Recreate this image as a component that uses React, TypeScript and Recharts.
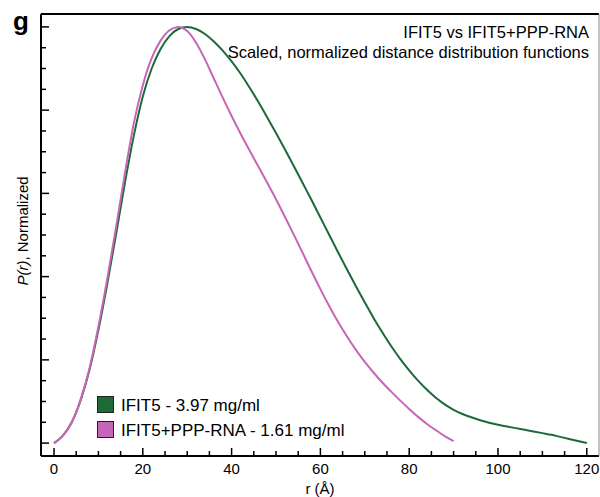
import React from 'react'
import { LineChart, Line, XAxis, YAxis } from 'recharts'

// distance r (Å)
const rValues = [
  0, 2, 4, 6, 8, 10, 12, 14, 16, 18, 20, 22, 24, 26, 28, 30, 32, 34, 36, 38, 40,
  42, 44, 46, 48, 50, 52, 54, 56, 58, 60, 62, 64, 66, 68, 70, 72, 74, 76, 78, 80,
  82, 84, 86, 88, 90, 92, 94, 96, 98, 100, 102, 104, 106, 108, 110, 112, 114, 116, 118, 120,
]

// IFIT5 - 3.97 mg/ml
const ifit5 = [
  0, 0.018, 0.05, 0.103, 0.176, 0.272, 0.383, 0.503, 0.627, 0.74, 0.833, 0.9, 0.947, 0.978, 0.995, 1.0,
  0.995, 0.983, 0.965, 0.943, 0.917, 0.888, 0.855, 0.82, 0.783, 0.745, 0.706, 0.666, 0.625, 0.584, 0.542,
  0.5, 0.458, 0.417, 0.377, 0.338, 0.3, 0.265, 0.232, 0.202, 0.175, 0.15, 0.128, 0.109, 0.093, 0.08,
  0.07, 0.062, 0.055, 0.049, 0.044, 0.04, 0.036, 0.032, 0.028, 0.024, 0.02, 0.015, 0.01, 0.005, 0,
]

// IFIT5+PPP-RNA - 1.61 mg/ml (ends at 90 Å)
const ifit5Rna = [
  0, 0.018, 0.05, 0.105, 0.18, 0.28, 0.395, 0.52, 0.65, 0.77, 0.86, 0.925, 0.967, 0.992, 1.0, 0.99,
  0.962, 0.922, 0.876, 0.83, 0.786, 0.744, 0.704, 0.665, 0.626, 0.586, 0.544, 0.501, 0.457, 0.413, 0.37,
  0.329, 0.291, 0.256, 0.224, 0.195, 0.169, 0.145, 0.123, 0.102, 0.082, 0.063, 0.046, 0.031, 0.017, 0.005,
]

const xTicks = [0, 5, 10, 15, 20, 25, 30, 35, 40, 45, 50, 55, 60, 65, 70, 75, 80, 85, 90, 95, 100, 105, 110, 115, 120]
const yTicks = [0, 0.05, 0.1, 0.15, 0.2, 0.25, 0.3, 0.35, 0.4, 0.45, 0.5, 0.55, 0.6, 0.65, 0.7, 0.75, 0.8, 0.85, 0.9, 0.95, 1]

const GREEN = '#1b6a38'
const PINK = '#c865b6'
const FONT = '"Liberation Sans", Arial, Helvetica, sans-serif'

const data = rValues.map((r, i) => ({
  r,
  ifit5: ifit5[i],
  rna: i < ifit5Rna.length ? ifit5Rna[i] : null,
}))

const XTick = ({ x, y, payload }: any) => {
  const major = payload.value % 20 === 0
  return (
    <g>
      <line x1={x} x2={x} y1={y - 1} y2={y - 1 - (major ? 7 : 4)} stroke="#000" strokeWidth={1.5} />
      {major && (
        <text x={x} y={y + 18} textAnchor="middle" fontSize={15} fontFamily={FONT} fill="#000">
          {payload.value}
        </text>
      )}
    </g>
  )
}

const YTick = ({ x, y, payload }: any) => {
  const major = Math.round(payload.value * 100) % 20 === 0
  return <line x1={x + 1} x2={x + 1 + (major ? 7 : 4)} y1={y} y2={y} stroke="#000" strokeWidth={1.5} />
}

export default function App() {
  return (
    <div style={{ position: 'absolute', left: 0, top: 0, width: 600, height: 497, background: '#fff' }}>
      <LineChart width={600} height={497} data={data} margin={{ top: 13, right: 0, left: 40, bottom: 40 }}>
        <XAxis
          dataKey="r"
          type="number"
          domain={[-2.93, 122.75]}
          allowDataOverflow
          ticks={xTicks}
          interval={0}
          height={1}
          tickSize={0}
          tickMargin={0}
          tickLine={false}
          axisLine={{ stroke: '#000', strokeWidth: 2 }}
          tick={<XTick />}
        />
        <XAxis
          xAxisId="top"
          orientation="top"
          dataKey="r"
          type="number"
          domain={[-2.93, 122.75]}
          height={1}
          tick={false}
          tickLine={false}
          axisLine={{ stroke: '#000', strokeWidth: 2 }}
        />
        <YAxis
          type="number"
          domain={[-0.031, 1.031]}
          allowDataOverflow
          ticks={yTicks}
          interval={0}
          width={1}
          tickSize={0}
          tickMargin={0}
          tickLine={false}
          axisLine={{ stroke: '#000', strokeWidth: 2 }}
          tick={<YTick />}
        />
        <YAxis
          yAxisId="right"
          orientation="right"
          type="number"
          domain={[-0.031, 1.031]}
          width={1}
          tick={false}
          tickLine={false}
          axisLine={{ stroke: '#888', strokeWidth: 1 }}
        />
        <Line
          dataKey="ifit5"
          type="monotone"
          stroke={GREEN}
          strokeWidth={2}
          dot={false}
          isAnimationActive={false}
        />
        <Line
          dataKey="rna"
          type="monotone"
          stroke={PINK}
          strokeWidth={2}
          dot={false}
          connectNulls={false}
          isAnimationActive={false}
        />
      </LineChart>

      <svg
        width={600}
        height={497}
        style={{ position: 'absolute', left: 0, top: 0, pointerEvents: 'none' }}
        fontFamily={FONT}
      >
        <text x={13} y={30} fontSize={26} fontWeight="bold" fill="#000">g</text>
        <text x={589} y={38} fontSize={16.5} textAnchor="end" fill="#000">IFIT5 vs IFIT5+PPP-RNA</text>
        <text x={589} y={58} fontSize={16.5} textAnchor="end" fill="#000">
          Scaled, normalized distance distribution functions
        </text>
        <text x={320} y={494} fontSize={15} textAnchor="middle" fill="#000">r (Å)</text>
        <text
          x={22}
          y={231}
          fontSize={15}
          textAnchor="middle"
          dominantBaseline="central"
          transform="rotate(-90 22 231)"
          fill="#000"
        >
          <tspan fontStyle="italic">P(r)</tspan>, Normalized
        </text>
        <rect x={97.5} y={396.5} width={16} height={16} fill={GREEN} stroke="#222" strokeWidth={1} />
        <text x={121} y={410.5} fontSize={17} fill="#000">IFIT5 - 3.97 mg/ml</text>
        <rect x={97.5} y={421.5} width={16} height={16} fill={PINK} stroke="#222" strokeWidth={1} />
        <text x={121} y={435.5} fontSize={17} fill="#000">IFIT5+PPP-RNA - 1.61 mg/ml</text>
      </svg>
    </div>
  )
}
